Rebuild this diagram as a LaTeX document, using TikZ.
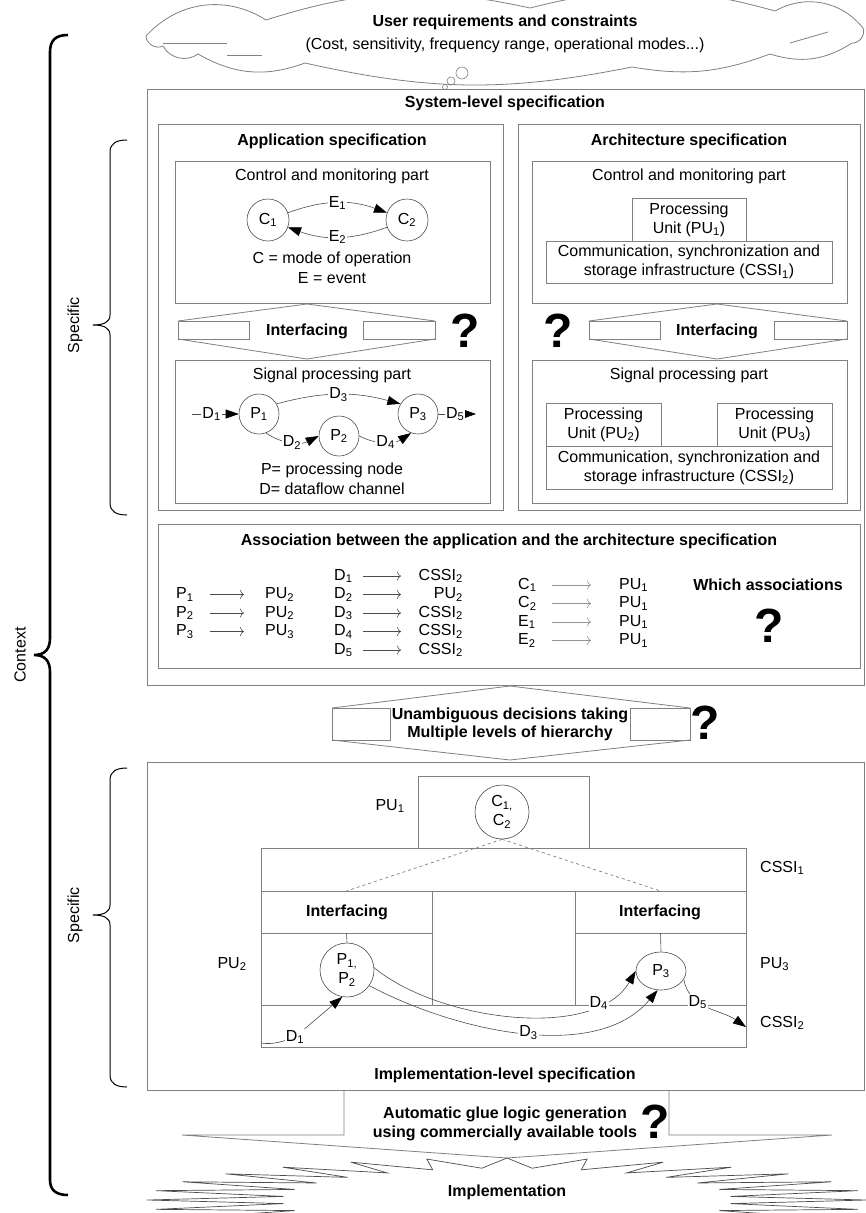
\documentclass[tikz,border=0pt]{standalone}
\usepackage{fontspec}
\setmainfont{Liberation Sans}
\usetikzlibrary{arrows.meta,shapes.geometric}
\definecolor{boxgray}{rgb}{0.50,0.50,0.50}
\definecolor{lngray}{rgb}{0.30,0.30,0.30}
\definecolor{lightgr}{rgb}{0.58,0.58,0.58}
\newcommand{\fs}{\fontsize{16}{19}\selectfont}
\newcommand{\sbs}[1]{\textsubscript{#1}}
\newcommand{\bx}[5]{\node[boxn, minimum width={(#4)-(#2)}, minimum height={(#5)-(#3)}, anchor=north west] (#1) at (#2,#3) {};}
\begin{document}
\begin{tikzpicture}[x=1pt,y=-1pt,
  every node/.style={font=\fs, inner sep=0pt, align=center},
  boxn/.style={draw=boxgray, line width=0.8pt, inner sep=0pt, outer sep=0pt},
  shp/.style={draw=boxgray, line width=0.8pt},
  ttl/.style={font=\fs\bfseries},
  qm/.style={font=\fontsize{48}{48}\selectfont\bfseries},
  circ/.style={draw=lngray, line width=0.6pt, circle, minimum size=40pt},
  tri/.style={draw=lngray, line width=0.6pt, -{Triangle[length=13pt,width=9pt,color=black]}},
  elab/.style={fill=white, inner sep=1pt},
  assoc/.style={-{To[length=4pt,width=9pt]}, line width=0.6pt},
  brc/.style={draw=black, line width=1pt},
  ]
\useasboundingbox (0,0) rectangle (865,1213);

% ---------- cloud ----------
\draw[shp, fill=white] (146,36) to[bend left=40] (266,20) to[bend left=15] (530,8)
  to[bend left=15] (775,11) to[bend left=40] (863,28) to[bend left=60] (852,43)
  to[bend left=25] (770,54) to[bend left=15] (632,67) to[bend left=12] (305,63)
  to[bend left=25] (198,54) to[bend left=50] (163,46) to[bend left=60] (146,36);
\draw[shp] (163,43) -- (227,43);
\draw[shp] (227,55) -- (262,55);
\draw[shp] (790,43) -- (828,32);
\node[ttl] (cloudT) at (505,22) {User requirements and constraints};
\node (cloudS) at (505,45) {(Cost, sensitivity, frequency range, operational modes...)};
\draw[shp, line width=0.6pt] (462,73) circle[radius=6];
\draw[shp, line width=0.6pt] (451,81) circle[radius=4];
\draw[shp, line width=0.6pt] (445,87) circle[radius=2.5];

% ---------- braces ----------
\draw[brc, line width=2.6pt] (68,35) .. controls (56,35) and (50,40) .. (50,52) -- (50,638)
  .. controls (50,649) and (45,655) .. (34,655) .. controls (45,655) and (50,661) .. (50,672)
  -- (50,1180) .. controls (50,1190) and (56,1195) .. (68,1195);
\node[rotate=90] (ctx) at (20,655) {Context};
\draw[brc] (127,140) .. controls (117,140) and (110,143) .. (110,152) -- (110,315)
  .. controls (110,322) and (104,325) .. (93,325) .. controls (104,325) and (110,328) .. (110,335)
  -- (110,503) .. controls (110,512) and (117,515) .. (127,515);
\node[rotate=90] (spc1) at (75,325) {Specific};
\draw[brc] (127,768) .. controls (117,768) and (110,771) .. (110,780) -- (110,905)
  .. controls (110,912) and (104,915) .. (93,915) .. controls (104,915) and (110,918) .. (110,925)
  -- (110,1075) .. controls (110,1084) and (117,1087) .. (127,1087);
\node[rotate=90] (spc2) at (75,915) {Specific};

% ---------- system level ----------
\bx{sys}{147}{89}{864}{685}
\node[ttl] (sysT) at (505,103) {System-level specification};

% application spec
\bx{app}{158}{124}{503}{510}
\node[ttl] (appT) at (332,141) {Application specification};
\bx{ctlA}{175}{161}{490}{303}
\node (ctlAT) at (332,176) {Control and monitoring part};
\node[circ, minimum size=42pt] (C1) at (268,220) {C\sbs{1}};
\node[circ, minimum size=42pt] (C2) at (407,220) {C\sbs{2}};
\draw[tri] (C1.20) to[bend left=20] node[elab]{E\sbs{1}} (C2.160);
\draw[tri] (C2.200) to[bend left=20] node[elab]{E\sbs{2}} (C1.-20);
\node (legC) at (332,259) {C = mode of operation};
\node (legE) at (332,278) {E = event};

\draw[shp] (178,321) -- (307,304) -- (435,321);
\draw[shp] (178,339) -- (307,359) -- (435,339);
\draw[shp] (178,321) rectangle (249,339);
\draw[shp] (363,321) rectangle (435,339);
\node[ttl] (ifA) at (307,331) {Interfacing};
\node[qm] (qA) at (465,331) {?};

\bx{sigA}{175}{360}{490}{503}
\node (sigAT) at (332,375) {Signal processing part};
\node[circ] (P1) at (259,414) {P\sbs{1}};
\node[circ] (P2) at (339,436) {P\sbs{2}};
\node[circ] (P3) at (418,414) {P\sbs{3}};
\coordinate (d1s) at (192,414);
\coordinate (d5e) at (476,414);
\draw[tri] (d1s) -- node[elab, pos=0.42]{D\sbs{1}} (P1);
\draw[tri] (P3) -- node[elab, pos=0.45]{D\sbs{5}} (d5e);
\draw[tri] (P1.30) to[bend left=15] node[elab]{D\sbs{3}} (P3.150);
\draw[tri] (P1.-70) to[bend right=30] node[elab]{D\sbs{2}} (P2.west);
\draw[tri] (P2.east) to[bend right=30] node[elab]{D\sbs{4}} (P3.-110);
\node (legP) at (332,470) {P= processing node};
\node (legD) at (332,489) {D= dataflow channel};

% architecture spec
\bx{arch}{518}{124}{860}{510}
\node[ttl] (archT) at (689,141) {Architecture specification};
\bx{ctlB}{532}{161}{847}{303}
\node (ctlBT) at (689,176) {Control and monitoring part};
\bx{pu1}{632}{198}{746}{241}
\node (pu1T) at (689,219.5) {Processing\\Unit (PU\sbs{1})};
\bx{cssi1}{546}{241}{832}{283}
\node (cssi1T) at (689,262) {Communication, synchronization and\\storage infrastructure (CSSI\sbs{1})};
\draw[shp] (589,321) -- (717,304) -- (847,321);
\draw[shp] (589,339) -- (717,359) -- (847,339);
\draw[shp] (589,321) rectangle (660,339);
\draw[shp] (774,321) rectangle (847,339);
\node[ttl] (ifB) at (717,331) {Interfacing};
\node[qm] (qB) at (558,331) {?};
\bx{sigB}{532}{360}{847}{503}
\node (sigBT) at (689,375) {Signal processing part};
\bx{pu2}{546}{403}{661}{446}
\node (pu2T) at (603.5,424.5) {Processing\\Unit (PU\sbs{2})};
\bx{pu3}{717}{403}{832}{446}
\node (pu3T) at (774.5,424.5) {Processing\\Unit (PU\sbs{3})};
\bx{cssi2}{546}{446}{832}{489}
\node (cssi2T) at (689,467.5) {Communication, synchronization and\\storage infrastructure (CSSI\sbs{2})};

% association
\bx{assoc}{158}{524}{860}{668}
\node[ttl] (assT) at (509,541) {Association between the application and the architecture specification};
\foreach \n/\t/\y in {1/2/594.5, 2/2/613, 3/3/631.5}{
  \node[anchor=west] (aP\n) at (176,\y) {P\sbs{\n}};
  \coordinate (aPs\n) at (210,\y);
  \coordinate (aPe\n) at (244,\y);
  \draw[assoc, lngray] (aPs\n) -- (aPe\n);
  \node[anchor=west] (aPU\n) at (265,\y) {PU\sbs{\t}};
}
\foreach \n/\t/\y in {1/CSSI/576, 2/PU/594.5, 3/CSSI/613, 4/CSSI/631.5, 5/CSSI/650}{
  \node[anchor=west] (aD\n) at (334,\y) {D\sbs{\n}};
  \coordinate (aDs\n) at (363,\y);
  \coordinate (aDe\n) at (401,\y);
  \draw[assoc, lngray] (aDs\n) -- (aDe\n);
  \node[anchor=east] (aDT\n) at (463,\y) {\t\sbs{2}};
}
\foreach \n/\l/\y in {1/C\sbs{1}/585, 2/C\sbs{2}/603.5, 3/E\sbs{1}/622, 4/E\sbs{2}/640.5}{
  \node[anchor=west] (aC\n) at (518,\y) {\l};
  \coordinate (aCs\n) at (552,\y);
  \coordinate (aCe\n) at (591,\y);
  \draw[assoc, lightgr] (aCs\n) -- (aCe\n);
  \node[anchor=west] (aCT\n) at (619,\y) {PU\sbs{1}};
}
\node[ttl] (which) at (768,585) {Which associations};
\node[qm] (qC) at (769,626) {?};

% ---------- middle arrow ----------
\draw[shp] (332,708) -- (510,686) -- (690,708);
\draw[shp] (332,740) -- (510,760) -- (690,740);
\draw[shp] (332,708) rectangle (390,740);
\draw[shp] (630,708) rectangle (690,740);
\node[ttl] (mid1) at (510,715) {Unambiguous decisions taking};
\node[ttl] (mid2) at (510,733) {Multiple levels of hierarchy};
\node[qm] (qD) at (705,723) {?};

% ---------- implementation level ----------
\bx{impl}{147}{762}{864}{1090}
\node[ttl] (implT) at (505,1075) {Implementation-level specification};
\bx{ipu1}{418}{776}{589}{848}
\node[circ, minimum size=54pt] (cc) at (502,812) {C\sbs{1,}\\C\sbs{2}};
\node (lpu1) at (390,806) {PU\sbs{1}};
\bx{icssi1}{261}{848}{746}{891}
\node[anchor=west] (lcssi1) at (760,868) {CSSI\sbs{1}};
\bx{if1}{261}{891}{432}{933}
\node[ttl] (if1T) at (347,912) {Interfacing};
\bx{if2}{575}{891}{746}{933}
\node[ttl] (if2T) at (660,912) {Interfacing};
\bx{ipu2}{261}{933}{432}{1005}
\bx{ipu3}{575}{933}{746}{1005}
\bx{icssi2}{261}{1005}{746}{1047}
\node (lpu2) at (232,964) {PU\sbs{2}};
\node[anchor=west] (lpu3) at (760,964) {PU\sbs{3}};
\node[anchor=west] (lcssi2) at (760,1023) {CSSI\sbs{2}};
\node[circ, minimum size=54pt] (pp) at (347,970) {P\sbs{1,}\\P\sbs{2}};
\node[draw=lngray, line width=0.6pt, ellipse, minimum width=50pt, minimum height=38pt] (p3) at (661,971) {P\sbs{3}};
\draw[lngray, line width=0.6pt] (if1.south) -- (pp.north);
\draw[lngray, line width=0.6pt] (if2.south) -- (p3.north);
\draw[dashed, boxgray, line width=0.7pt] (cc.south) -- (if1.north);
\draw[dashed, boxgray, line width=0.7pt] (cc.south) -- (if2.north);
\coordinate (id1s) at (261,1043);
\coordinate (id5e) at (746,1027);
\draw[tri] (id1s) .. controls (274,1045) and (284,1041) .. (295,1037) node[elab]{D\sbs{1}} -- (pp.-100);
\draw[tri] (pp.-35) to[out=-28, in=-130, looseness=0.85] node[elab, pos=0.52]{D\sbs{3}} (p3.-100);
\draw[tri] (pp.5) to[out=-40, in=-120, looseness=0.8] node[elab, pos=0.8]{D\sbs{4}} (p3.west);
\draw[tri] (p3.-20) to[out=-80, in=145] node[elab, pos=0.35]{D\sbs{5}} (id5e);

% ---------- glue arrow ----------
\draw[shp] (344,1090) -- (344,1135) -- (182,1135) -- (507,1158) -- (832,1135) -- (669,1135) -- (669,1090);
\node[ttl] (glue1) at (505,1114) {Automatic glue logic generation};
\node[ttl] (glue2) at (505,1133) {using commercially available tools};
\node[qm] (qE) at (655,1122) {?};

% ---------- starburst ----------
\foreach \i in {0,...,55}{
  \pgfmathsetmacro{\srx}{isodd(\i) ? 225 : 360}
  \pgfmathsetmacro{\sry}{isodd(\i) ? 32 : 42}
  \pgfmathsetmacro{\sang}{\i*6.4285714}
  \pgfmathsetmacro{\spx}{507+\srx*cos(\sang)}
  \pgfmathsetmacro{\spy}{1200+\sry*sin(\sang)}
  \coordinate (sb\i) at (\spx,\spy);
}
\draw[draw=lngray, line width=0.7pt] (sb0) \foreach \i in {1,...,55}{ -- (sb\i)} -- cycle;
\node[ttl] (implem) at (507,1192) {Implementation};
\end{tikzpicture}
\end{document}
